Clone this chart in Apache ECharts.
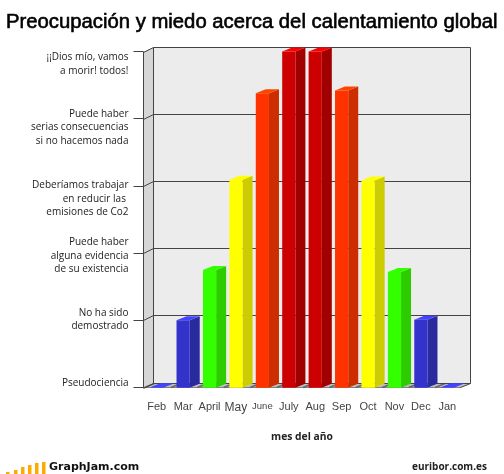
<!DOCTYPE html>
<html><head><meta charset="utf-8">
<style>html,body{margin:0;padding:0;background:#fff}#c{width:504px;height:474px}</style>
<script src="https://cdn.jsdelivr.net/npm/echarts@6/dist/echarts.min.js"></script>
</head><body><div id="c"></div>
<script>
const months = ['Feb','Mar','April','May','June','July','Aug','Sep','Oct','Nov','Dec','Jan'];
const values = [0, 1, 1.75, 3.09, 4.38, 5, 5, 4.42, 3.08, 1.72, 1.01, 0];
const faceColors = ['#3a3ae0','#3333cc','#33ff00','#ffff00','#ff3300','#cc0000','#cc0000','#ff3300','#ffff00','#33ff00','#3333cc','#3a3ae0'];
const sideColors = ['#2c2ca0','#2a2a9f','#2ccc00','#cccc00','#cc2e00','#a00000','#a00000','#cc2e00','#cccc00','#2ccc00','#2a2a9f','#2c2ca0'];
const topColors  = ['#4444ff','#4444ff','#33ff00','#ffff00','#ff4400','#ff0000','#ff0000','#ff4400','#ffff00','#33ff00','#4444ff','#4444ff'];
const levelTicks = [0,1,2,3,4,5];
const levelNames = ['Pseudociencia','No ha sido\ndemostrado','Puede haber\nalguna evidencia\nde su existencia','Deberíamos trabajar\nen reducir las \nemisiones de Co2','Puede haber\nserias consecuencias\nsi no hacemos nada','¡¡Dios mío, vamos\na morir! todos!'];
const labelLevels = [0.06,1.01,1.96,2.81,3.87,4.81];

const DX = 10, DY = -4, BARW = 13.2;
const line = {stroke:'#444', lineWidth:1};

function wall(params, api){
  const x0 = params.coordSys.x, y0 = params.coordSys.y, w = params.coordSys.width, h = params.coordSys.height;
  const ch = [
    {type:'polygon',shape:{points:[[x0+DX,y0+DY],[x0+w+DX,y0+DY],[x0+w+DX,y0+h+DY],[x0+DX,y0+h+DY]]},style:{fill:'#ececec'}},
    {type:'polygon',shape:{points:[[x0,y0],[x0+DX,y0+DY],[x0+DX,y0+h+DY],[x0,y0+h]]},style:{fill:'#d6d6d6'}},
    {type:'polygon',shape:{points:[[x0,y0+h],[x0+DX,y0+h+DY],[x0+w+DX,y0+h+DY],[x0+w,y0+h]]},style:{fill:'#bdbdbd'}}
  ];
  months.forEach((m,i)=>{
    const tx = x0 + w*i/months.length + 1;
    ch.push({type:'polyline',shape:{points:[[tx,y0+h],[tx+DX,y0+h+DY]]},style:{fill:null,stroke:'#666',lineWidth:1.6}});
  });
  levelTicks.forEach(v=>{
    const y = Math.round(api.coord([0,v])[1])-0.5;
    ch.push({type:'polyline',shape:{points:[[x0,y+1],[x0+DX,y+DY],[x0+w+DX,y+DY]]},style:Object.assign({fill:null},line)});
  });
  ch.push({type:'polyline',shape:{points:[[x0+DX,y0+DY],[x0+DX,y0+h+DY]]},style:Object.assign({fill:null},line)});
  ch.push({type:'polyline',shape:{points:[[x0+w+DX,y0+DY],[x0+w+DX,y0+h+DY],[x0+w,y0+h]]},style:Object.assign({fill:null},line)});
  ch.push({type:'polyline',shape:{points:[[x0,y0],[x0,y0+h]]},style:Object.assign({fill:null},line)});
  return {type:'group',children:ch};
}
function bar3d(params, api){
  const i = api.value(0), v = api.value(1);
  const p = api.coord([i,v]), b = api.coord([i,0]);
  const l = p[0]-BARW/2, r = p[0]+BARW/2;
  return {type:'group',children:[
    {type:'polygon',shape:{points:[[l,b[1]],[l+DX,b[1]+DY],[r+DX,b[1]+DY],[r,b[1]]]},style:{fill:topColors[i]}},
    {type:'polygon',shape:{points:[[r,p[1]],[r+DX,p[1]+DY],[r+DX,b[1]+DY],[r,b[1]]]},style:{fill:sideColors[i]}},
    {type:'polygon',shape:{points:[[l,p[1]],[l+DX,p[1]+DY],[r+DX,p[1]+DY],[r,p[1]]]},style:{fill:topColors[i]}},
    {type:'rect',shape:{x:l,y:p[1],width:BARW,height:b[1]-p[1]},style:{fill:faceColors[i]}}
  ]};
}
const chart = echarts.init(document.getElementById('c'),null,{renderer:'canvas'});
chart.setOption({
  animation:false,
  backgroundColor:'#fff',
  title:{text:'Preocupación y miedo acerca del calentamiento global',left:6,top:12,padding:0,
    textStyle:{fontFamily:'Liberation Sans',fontSize:20.3,fontWeight:'normal',color:'#000',textBorderColor:'#000',textBorderWidth:0.6}},
  grid:{left:143.5,top:51.5,width:317,height:336},
  xAxis:{type:'category',data:months,name:'mes del año',nameLocation:'middle',nameGap:45,
    nameTextStyle:{fontFamily:'Open Sans',fontWeight:'bold',fontSize:10.3,color:'#222'},
    axisLine:{lineStyle:{color:'#444'}},
    axisTick:{alignWithLabel:false,length:10,lineStyle:{color:'#444'}},
    axisLabel:{interval:0,margin:14,fontFamily:'Liberation Sans',fontSize:11,color:'#444',
      formatter:v=>v==='June'?'{s|June}':v==='May'?'{l|May}':v,
      rich:{s:{fontSize:9.5,color:'#444',fontFamily:'Liberation Sans'},l:{fontSize:12,color:'#444',fontFamily:'Liberation Sans'}}}},
  yAxis:{type:'value',min:0,max:5,interval:1,
    splitLine:{show:false},
    axisLine:{show:false},
    axisTick:{show:true,length:10,lineStyle:{color:'#444'},customValues:levelTicks},
    axisLabel:{margin:15,align:'right',fontFamily:'Open Sans',fontSize:10,lineHeight:13.5,color:'#222',
      customValues:labelLevels,
      formatter:(v,i)=>levelNames[labelLevels.indexOf(v)]}},
  graphic:[
    {type:'text',left:49,top:462,style:{text:'GraphJam.com',font:'bold 11px "DejaVu Sans"',fill:'#111'}},
    {type:'text',left:412,top:462,style:{text:'euribor.com.es',font:'bold 10px "Open Sans"',fill:'#222'}},
    ...[[6,472],[14,470],[21,467],[28,465],[35,463],[42,462]].map(a=>({type:'rect',shape:{x:a[0],y:a[1],width:3.5,height:474-a[1]},style:{fill:'#ffaa00'}}))
  ],
  series:[
    {type:'custom',renderItem:wall,data:[[0,0]],silent:true,z:1,clip:false},
    {type:'custom',renderItem:bar3d,encode:{x:0,y:1},data:values.map((v,i)=>[i,v]),z:2,clip:false}
  ]
});
</script></body></html>
